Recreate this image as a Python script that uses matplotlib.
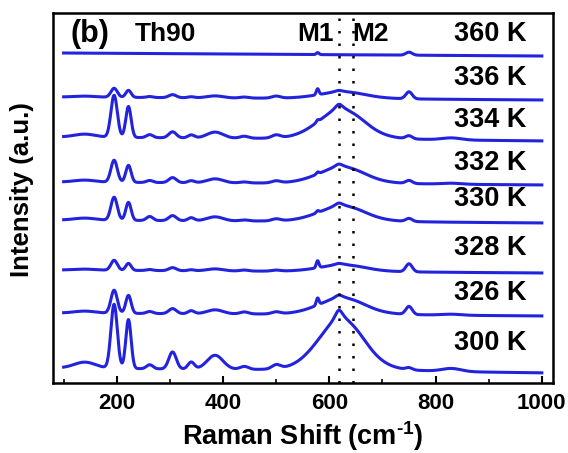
import numpy as np
import matplotlib
matplotlib.use("Agg")
import matplotlib.pyplot as plt

plt.rcParams['font.family'] = ['Liberation Sans', 'DejaVu Sans']
plt.rcParams['mathtext.fontset'] = 'custom'
plt.rcParams['mathtext.rm'] = 'Liberation Sans:bold'
plt.rcParams['mathtext.bf'] = 'Liberation Sans:bold'
plt.rcParams['mathtext.it'] = 'Liberation Sans:bold'

# ---- data ----
temperatures = ["300 K", "326 K", "328 K", "330 K", "332 K", "334 K", "336 K", "360 K"]
offsets = [15, 70, 113, 163, 201, 246, 286, 330]
tilts = [5, 3, 3, 3, 3, 4, 3, 3]

# Raman bands: centre (cm-1), width, line shape (G = Gaussian, L = Lorentzian)
band_pos = [140, 195, 222, 262, 305, 340, 385, 440, 500, 578, 618, 618, 650, 750, 830]
band_width = [20, 6, 5, 6, 7, 6, 15, 8, 8, 2.5, 42, 10, 45, 6, 18]
band_shape = ["G", "G", "G", "G", "G", "G", "G", "G", "G", "G", "G", "L", "L", "G", "G"]

# band heights for each temperature (a.u.)
h300 = [6, 64, 49, 4, 17, 7, 14, 3, 4, 0, 42, 12, 10, 2, 3]
h326 = [2, 23, 18, 2, 5, 3, 4, 2, 2, 7, 13, 4, 4, 8, 1]
h328 = [1, 10, 7, 1, 3, 1, 2, 1, 1, 7, 5, 2, 2, 8, 0]
h330 = [2, 23, 18, 4, 5, 3, 4, 1, 2, 2, 12, 4, 4, 3, 0]
h332 = [2, 22, 17, 2, 5, 2, 4, 1, 2, 2, 13, 4, 4, 3, 1]
h334 = [3, 42, 31, 3, 6, 3, 6, 2, 3, 2, 24, 7, 6, 3, 2]
h336 = [1, 9, 7, 1, 3, 1, 2, 1, 2, 6, 5, 2, 2, 7, 0]
h360 = [0, 0, 0, 0, 0, 0, 0, 0, 0, 2, 0, 0, 0, 3, 0]
heights = [h300, h326, h328, h330, h332, h334, h336, h360]

m1_pos = 618
m2_pos = 645
shift = np.linspace(100, 1000, 1801)


def spectrum(h):
    y = np.zeros_like(shift)
    for p, w, s, a in zip(band_pos, band_width, band_shape, h):
        d = shift - p
        if s == "G":
            y += a * np.exp(-d ** 2 / (2 * w ** 2))
        else:
            y += a / (1 + (d / w) ** 2)
    return y


fig = plt.figure(figsize=(5.68, 4.53), dpi=100)
ax = fig.add_axes([53 / 568, 70 / 453, 500 / 568, 370 / 453])

line_color = "#2323dd"
for lab, off, tilt, h in zip(temperatures, offsets, tilts, heights):
    base = off - tilt * (shift - 100) / 900
    ax.plot(shift, base + spectrum(h), color=line_color, lw=2.2)

for xv in (m1_pos, m2_pos):
    ax.axvline(xv, color="black", lw=1.8, ls=(0, (1, 4.0)))

label_y = [40, 90, 135, 184, 220, 263, 305, 349]
for lab, yy in zip(temperatures, label_y):
    ax.text(971, yy, lab, ha="right", va="center", fontsize=19.5, fontweight="bold")

ax.text(112, 349, "(b)", ha="left", va="center", fontsize=22, fontweight="bold")
ax.text(234, 349, "Th90", ha="left", va="center", fontsize=19, fontweight="bold")
ax.text(539, 349, "M1", ha="left", va="center", fontsize=19, fontweight="bold")
ax.text(644, 349, "M2", ha="left", va="center", fontsize=19, fontweight="bold")

ax.set_xlim(80, 1021)
ax.set_ylim(0, 370)
ax.set_xticks([200, 400, 600, 800, 1000])
ax.set_xticks([100, 300, 500, 700, 900], minor=True)
ax.set_yticks([])
ax.tick_params(axis="x", which="major", direction="in", length=5, width=1.5,
               labelsize=16, pad=7)
ax.tick_params(axis="x", which="minor", direction="in", length=3, width=1.2)
for t in ax.get_xticklabels():
    t.set_fontweight("bold")
for sp in ax.spines.values():
    sp.set_linewidth(1.8)

ax.set_xlabel(r"Raman Shift (cm$^{\text{-1}}$)", fontsize=19.5, fontweight="bold", labelpad=4)
ax.set_ylabel("Intensity (a.u.)", fontsize=18.5, fontweight="bold")
ax.yaxis.set_label_coords(-0.038, 0.524)

fig.savefig("out.png", dpi=100)
